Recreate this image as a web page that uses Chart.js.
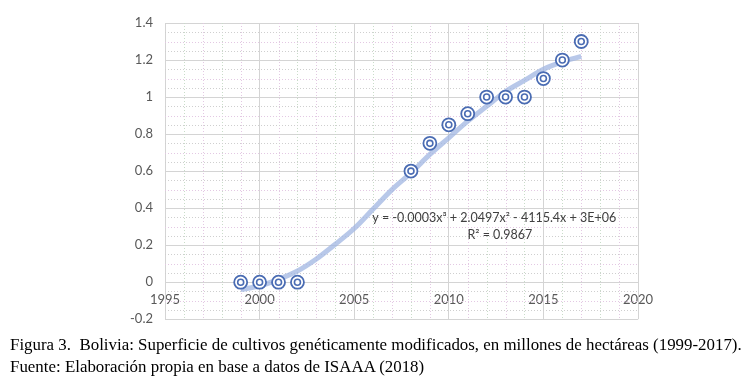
<!DOCTYPE html>
<html>
<head>
<meta charset="utf-8">
<script src="https://cdn.jsdelivr.net/npm/chart.js@4.4.0/dist/chart.umd.min.js"></script>
<style>
  body { margin: 0; background: #fff; width: 749px; height: 390px; overflow: hidden; position: relative; }
  #wrap { position: absolute; left: 0; top: 0; width: 749px; height: 339px; }
  .cap { position: absolute; left: 10px; font-family: "Liberation Serif", "Times New Roman", serif; font-size: 16.9px; color: #000; white-space: nowrap; }
</style>
</head>
<body>
<div id="wrap"><canvas id="chart"></canvas></div>
<div class="cap" style="top:335px">Figura 3.&nbsp; Bolivia: Superficie de cultivos genéticamente modificados, en millones de hectáreas (1999-2017).</div>
<div class="cap" style="top:357px">Fuente: Elaboración propia en base a datos de ISAAA (2018)</div>
<script>
// ------------------ Data ------------------

const years = [1999, 2000, 2001, 2002, 2008, 2009, 2010, 2011, 2012, 2013, 2014, 2015, 2016, 2017];
const hectares = [0, 0, 0, 0, 0.6, 0.75, 0.85, 0.91, 1.0, 1.0, 1.0, 1.1, 1.2, 1.3];

// polynomial trendline
const trendYears = [1999, 2000, 2001, 2002, 2003, 2004, 2005, 2006, 2007, 2008,
                    2009, 2010, 2011, 2012, 2013, 2014, 2015, 2016, 2017];
const trendValues = [-0.04, -0.02, 0.015, 0.06, 0.125, 0.205, 0.29, 0.395, 0.5, 0.59,
                     0.69, 0.78, 0.87, 0.95, 1.03, 1.09, 1.15, 1.19, 1.22];

const xTicks = [1995, 2000, 2005, 2010, 2015, 2020];
const yTicks = [-0.2, 0, 0.2, 0.4, 0.6, 0.8, 1, 1.2, 1.4];
const equationText = "y = -0.0003x³ + 2.0497x² - 4115.4x + 3E+06";
const r2Text = "R² = 0.9867";

const points = years.map((y, i) => ({ x: y, y: hectares[i] }));
const trend = trendYears.map((y, i) => ({ x: y, y: trendValues[i] }));

const blue = "#4a6cb3";

// minor dotted grid + trendline label
const extras = {
  id: "extras",
  beforeDatasetsDraw(chart) {
    const { ctx, chartArea: a, scales: { x, y } } = chart;
    ctx.save();
    ctx.lineWidth = 1;
    ctx.setLineDash([1, 2]);
    for (let v = xTicks[0]; v <= xTicks[xTicks.length - 1]; v++) {
      if (v % 5 === 0) continue;
      const px = Math.round(x.getPixelForValue(v)) + 0.5;
      ctx.strokeStyle = v % 2 ? "#e3c8e3" : "#c9dcc9";
      ctx.beginPath(); ctx.moveTo(px, a.top); ctx.lineTo(px, a.bottom); ctx.stroke();
    }
    for (let k = -4; k <= 28; k++) {
      if (k % 4 === 0) continue;
      const py = Math.round(y.getPixelForValue(k * 0.05)) + 0.5;
      ctx.strokeStyle = k % 2 ? "#cfcfcf" : "#e3c8e3";
      ctx.beginPath(); ctx.moveTo(a.left, py); ctx.lineTo(a.right, py); ctx.stroke();
    }
    ctx.restore();
  },
  afterDatasetsDraw(chart) {
    const { ctx, scales: { x, y } } = chart;
    ctx.save();
    ctx.fillStyle = "#404040";
    ctx.font = "12.5px Lato, 'Liberation Sans', sans-serif";
    ctx.textAlign = "center";
    ctx.textBaseline = "middle";
    ctx.fillText(equationText, x.getPixelForValue(2012.4), y.getPixelForValue(0.346));
    ctx.fillText(r2Text, x.getPixelForValue(2012.7), y.getPixelForValue(0.254));
    ctx.restore();
  }
};

new Chart(document.getElementById("chart"), {
  type: "scatter",
  data: {
    datasets: [
      {
        label: "inner",
        data: points,
        pointRadius: 3,
        pointBorderWidth: 1.6,
        pointBorderColor: blue,
        pointBackgroundColor: "#fff",
        order: 0
      },
      {
        label: "outer",
        data: points,
        pointRadius: 6.5,
        pointBorderWidth: 1.8,
        pointBorderColor: blue,
        pointBackgroundColor: "#fff",
        order: 1
      },
      {
        label: "trend",
        data: trend,
        showLine: true,
        pointRadius: 0,
        borderColor: "rgba(160,182,226,0.75)",
        borderWidth: 5,
        borderCapStyle: "butt",
        cubicInterpolationMode: "monotone",
        order: 2
      }
    ]
  },
  options: {
    responsive: true,
    maintainAspectRatio: false,
    animation: false,
    layout: { padding: { top: 23, right: 111, bottom: 1, left: 0 } },
    plugins: { legend: { display: false }, tooltip: { enabled: false } },
    scales: {
      x: {
        type: "linear",
        position: { y: 0 },
        min: xTicks[0],
        max: xTicks[xTicks.length - 1],
        afterBuildTicks: s => { s.ticks = xTicks.map(v => ({ value: v })); },
        afterFit: s => { s.height = 0; },
        grid: { color: "#d4d4d4", lineWidth: 1, drawTicks: false },
        border: { display: true, color: "#d4d4d4" },
        ticks: {
          color: "#595959",
          font: { family: "Lato, 'Liberation Sans', sans-serif", size: 13 },
          padding: 10,
          maxRotation: 0,
          callback: v => String(v)
        }
      },
      y: {
        type: "linear",
        min: yTicks[0],
        max: yTicks[yTicks.length - 1],
        afterBuildTicks: s => { s.ticks = yTicks.map(v => ({ value: v })); },
        afterFit: s => { s.width = 165; },
        grid: { color: "#d4d4d4", lineWidth: 1, drawTicks: false },
        border: { display: true, color: "#d4d4d4" },
        ticks: {
          color: "#595959",
          font: { family: "Lato, 'Liberation Sans', sans-serif", size: 13 },
          padding: 12,
          callback: v => String(Math.round(v * 10) / 10)
        }
      }
    }
  },
  plugins: [extras]
});
</script>
</body>
</html>
